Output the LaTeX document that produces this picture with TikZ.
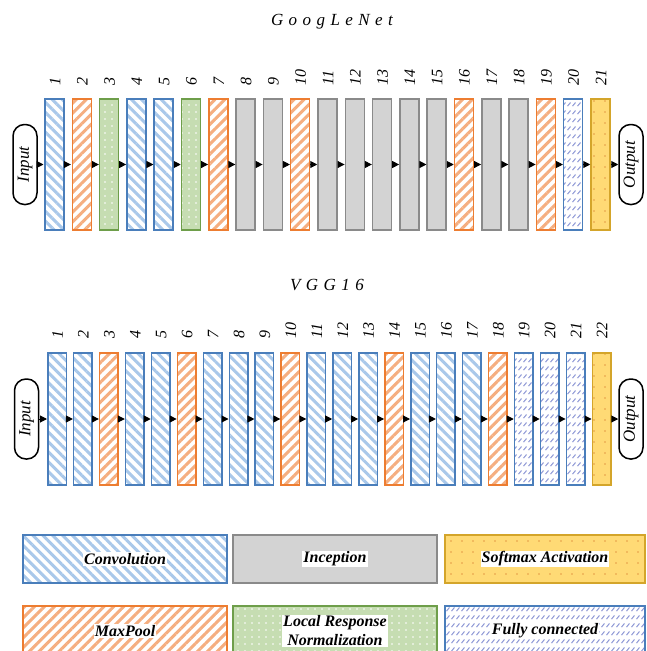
\documentclass[tikz,border=0pt]{standalone}
\usepackage{fontspec}
\setmainfont{Liberation Serif}
\usetikzlibrary{patterns.meta,arrows.meta}
\definecolor{convb}{HTML}{4A7EBB}
\definecolor{convs}{HTML}{A9C8EA}
\definecolor{poolb}{HTML}{ED7D31}
\definecolor{pools}{HTML}{F5AE80}
\definecolor{lrnb}{HTML}{6E9E4A}
\definecolor{lrnf}{HTML}{C6DDB2}
\definecolor{incb}{HTML}{8A8A8A}
\definecolor{incf}{HTML}{D3D3D3}
\definecolor{softb}{HTML}{D4A52A}
\definecolor{softf}{HTML}{FFDA75}
\definecolor{softd}{HTML}{E39A46}
\definecolor{fcs}{HTML}{8E98D6}
\pgfdeclarepattern{
  name=fcdash,
  type=uncolored,
  bottom left={\pgfpoint{0pt}{0pt}},
  top right={\pgfpoint{4.5pt}{8pt}},
  tile size={\pgfpoint{4.5pt}{8pt}},
  code={
    \pgfsetlinewidth{1.1pt}
    \pgfpathmoveto{\pgfpoint{0.6pt}{1pt}}
    \pgfpathlineto{\pgfpoint{3.8pt}{5pt}}
    \pgfusepath{stroke}
  }
}
\tikzset{
  lay/.style={line width=1.5pt, inner sep=0pt},
  gsize/.style={minimum width=19pt, minimum height=131pt},
  vsize/.style={minimum width=18.5pt, minimum height=132pt},
  conv/.style={lay, draw=convb, preaction={fill=white},
    pattern={Lines[angle=-45,distance=7pt,line width=3pt]}, pattern color=convs},
  pool/.style={lay, draw=poolb, preaction={fill=white},
    pattern={Lines[angle=45,distance=7pt,line width=3pt]}, pattern color=pools},
  lrn/.style={lay, draw=lrnb, preaction={fill=lrnf},
    pattern={Dots[radius=0.8pt,distance=7pt]}, pattern color=white},
  inc/.style={lay, draw=incb, fill=incf},
  soft/.style={lay, draw=softb, preaction={fill=softf},
    pattern={Dots[radius=0.8pt,distance=11pt]}, pattern color=softd},
  fc/.style={lay, draw=convb, preaction={fill=white}, pattern=fcdash, pattern color=fcs},
  io/.style={draw, line width=1.5pt, rounded corners=11.5pt, minimum width=80pt,
    minimum height=24pt, inner sep=0pt, rotate=90,
    font=\fontsize{17}{20}\selectfont\itshape},
  num/.style={rotate=90, anchor=west, inner sep=0pt, font=\fontsize{16}{19}\selectfont\itshape},
  ttl/.style={font=\fontsize{17}{20}\selectfont\itshape\addfontfeature{LetterSpace=32}},
  arr/.style={-{Triangle[length=7pt,width=7pt]}, line width=1pt},
  leg/.style={lay, minimum width=204pt, minimum height=48pt},
  legtxt/.style={fill=white, inner sep=1pt, align=center,
    font=\fontsize{16}{19}\selectfont\bfseries\itshape},
}
\begin{document}
\begin{tikzpicture}[x=1pt,y=-1pt]
\useasboundingbox (0,0) rectangle (647,651);
% ---------- GoogLeNet ----------
\node[ttl] (gtitle) at (332,22) {GoogLeNet};
\foreach \i in {1,4,5} \node[conv,gsize] (g\i) at ({54.5+27.3*(\i-1)},164.5) {};
\foreach \i in {2,7,10,16,19} \node[pool,gsize] (g\i) at ({54.5+27.3*(\i-1)},164.5) {};
\foreach \i in {3,6} \node[lrn,gsize] (g\i) at ({54.5+27.3*(\i-1)},164.5) {};
\foreach \i in {8,9,11,12,13,14,15,17,18} \node[inc,gsize] (g\i) at ({54.5+27.3*(\i-1)},164.5) {};
\node[fc,gsize] (g20) at ({54.5+27.3*19},164.5) {};
\node[soft,gsize] (g21) at ({54.5+27.3*20},164.5) {};
\foreach \i in {1,...,21} \node[num] (gn\i) at ({54.5+27.3*(\i-1)+0.5},86) {\i};
\node[io] (gin) at (25,164.5) {Input};
\node[io] (gout) at (631,164.5) {Output};
\draw[arr] (gin.south) -- (g1.west);
\foreach \i in {1,...,20} {
  \pgfmathtruncatemacro{\j}{\i+1}
  \draw[arr] (g\i.east) -- (g\j.west);
}
\draw[arr] (g21.east) -- (gout.north);
% ---------- VGG16 ----------
\node[ttl] (vtitle) at (327,285) {VGG16};
\foreach \i in {1,2,4,5,7,8,9,11,12,13,15,16,17} \node[conv,vsize] (v\i) at ({57+25.93*(\i-1)},419) {};
\foreach \i in {3,6,10,14,18} \node[pool,vsize] (v\i) at ({57+25.93*(\i-1)},419) {};
\foreach \i in {19,20,21} \node[fc,vsize] (v\i) at ({57+25.93*(\i-1)},419) {};
\node[soft,vsize] (v22) at ({57+25.93*21},419) {};
\foreach \i in {1,...,22} \node[num] (vn\i) at ({57+25.93*(\i-1)+0.5},339) {\i};
\node[io] (vin) at (26.5,419) {Input};
\node[io] (vout) at (631,419) {Output};
\draw[arr] (vin.south) -- (v1.west);
\foreach \i in {1,...,21} {
  \pgfmathtruncatemacro{\j}{\i+1}
  \draw[arr] (v\i.east) -- (v\j.west);
}
\draw[arr] (v22.east) -- (vout.north);
% ---------- Legend ----------
\node[leg,conv] (lconv) at (125,559) {};
\node[leg,inc] (linc) at (335,559) {};
\node[leg,soft,minimum width=200pt] (lsoft) at (545,559) {};
\node[leg,pool] (lpool) at (125,630) {};
\node[leg,lrn] (llrn) at (335,630) {};
\node[leg,fc,minimum width=200pt] (lfc) at (545,630) {};
\node[legtxt] (tconv) at (lconv) {Convolution};
\node[legtxt] (tinc) at (linc) {Inception};
\node[legtxt] (tsoft) at (lsoft) {Softmax Activation};
\node[legtxt] (tpool) at ([yshift=-1pt]lpool.center) {MaxPool};
\node[legtxt] (tlrn) at ([yshift=-1pt]llrn.center) {Local Response\\Normalization};
\node[legtxt] (tfc) at ([yshift=-1pt]lfc.center) {Fully connected};
\end{tikzpicture}
\end{document}
